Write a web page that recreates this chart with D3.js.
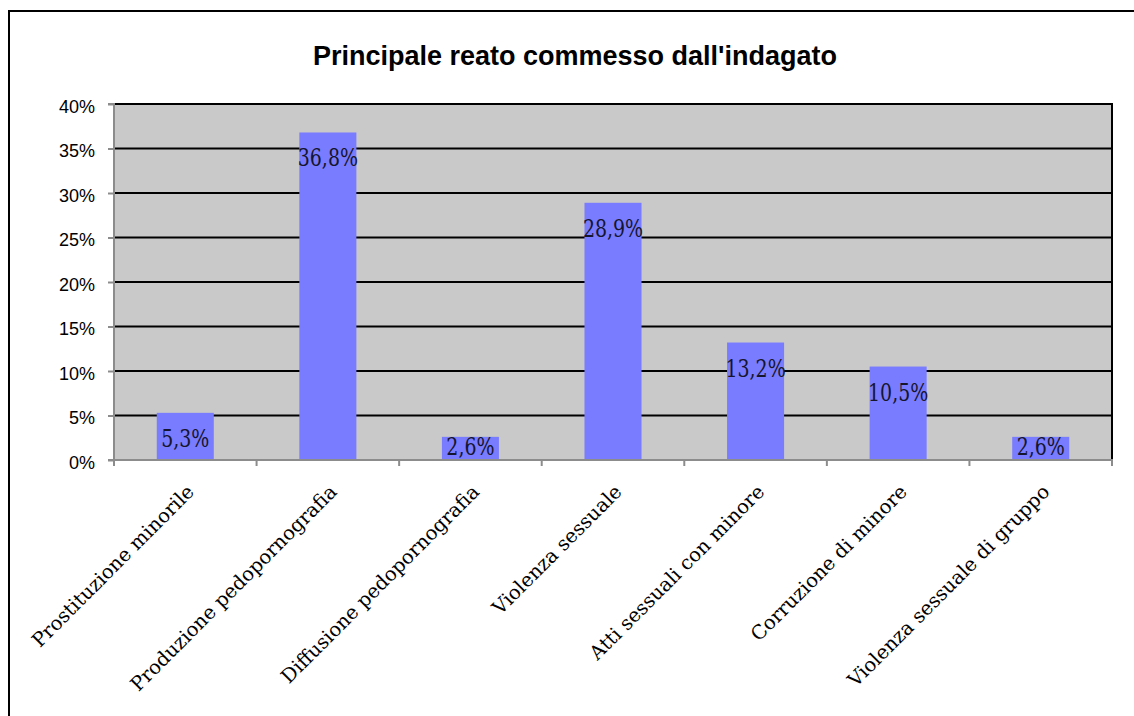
<!DOCTYPE html>
<html>
<head>
<meta charset="utf-8">
<script src="https://cdn.jsdelivr.net/npm/d3@7"></script>
<style>
  html, body { margin: 0; padding: 0; background: #ffffff; }
  svg { display: block; }
</style>
</head>
<body>
<svg id="chart" width="1134" height="716"></svg>
<script>
// Chart content
const chartTitle = "Principale reato commesso dall'indagato";
const categories = [
  "Prostituzione minorile",
  "Produzione pedopornografia",
  "Diffusione pedopornografia",
  "Violenza sessuale",
  "Atti sessuali con minore",
  "Corruzione di minore",
  "Violenza sessuale di gruppo"
];
const shares = [5.3, 36.8, 2.6, 28.9, 13.2, 10.5, 2.6];
const yTicks = [0, 5, 10, 15, 20, 25, 30, 35, 40];

const svg = d3.select("#chart");

// Outer frame of the chart object (it runs past the right and bottom edges)
svg.append("rect")
  .attr("x", 9).attr("y", 11)
  .attr("width", 1200).attr("height", 800)
  .attr("fill", "#ffffff")
  .attr("stroke", "#000000")
  .attr("stroke-width", 2);

// Plot area
const plot = { left: 114, right: 1112, top: 104, bottom: 460 };

const x = d3.scaleBand()
  .domain(categories)
  .range([plot.left, plot.right])
  .paddingInner(0.6)
  .paddingOuter(0.3);

const y = d3.scaleLinear()
  .domain([0, 40])
  .range([plot.bottom, plot.top]);

// Title
svg.append("text")
  .attr("x", 575).attr("y", 65)
  .attr("text-anchor", "middle")
  .attr("font-family", "Liberation Sans, Arial, sans-serif")
  .attr("font-weight", "bold")
  .attr("font-size", 27)
  .attr("fill", "#000")
  .text(chartTitle);

// Grey plot background
svg.append("rect")
  .attr("x", plot.left).attr("y", plot.top)
  .attr("width", plot.right - plot.left)
  .attr("height", plot.bottom - plot.top)
  .attr("fill", "#c9c9c9");

// Horizontal gridlines
svg.append("g")
  .selectAll("line")
  .data(yTicks.filter(d => d > 0))
  .join("line")
  .attr("x1", plot.left).attr("x2", plot.right)
  .attr("y1", d => y(d)).attr("y2", d => y(d))
  .attr("stroke", "#000")
  .attr("stroke-width", 2);

// Right border of plot area
svg.append("line")
  .attr("x1", plot.right).attr("x2", plot.right)
  .attr("y1", plot.top - 1).attr("y2", plot.bottom)
  .attr("stroke", "#000")
  .attr("stroke-width", 2);

// Bars
svg.append("g")
  .selectAll("rect")
  .data(shares)
  .join("rect")
  .attr("x", (d, i) => x(categories[i]))
  .attr("width", x.bandwidth())
  .attr("y", d => y(d))
  .attr("height", d => y(0) - y(d))
  .attr("fill", "#7a7cff");

// Value labels inside the top of each bar (narrowed serif face)
const fmt = v => v.toFixed(1).replace(".", ",") + "%";
svg.append("g")
  .selectAll("text")
  .data(shares)
  .join("text")
  .attr("transform", (d, i) => {
    const cx = x(categories[i]) + x.bandwidth() / 2;
    const by = Math.min(y(d) + 34, plot.bottom - 5);
    return `translate(${cx},${by}) scale(0.79,1)`;
  })
  .attr("text-anchor", "middle")
  .attr("font-family", "DejaVu Serif, serif")
  .attr("font-size", 24)
  .attr("fill", "#15152e")
  .text(fmt);

// Y axis
const yAxis = d3.axisLeft(y)
  .tickValues(yTicks)
  .tickSize(6)
  .tickPadding(13)
  .tickFormat(d => d + "%");

const gy = svg.append("g")
  .attr("transform", `translate(${plot.left},0)`)
  .call(yAxis);
gy.select(".domain").attr("stroke", "#8c8c8c").attr("stroke-width", 2)
  .attr("d", `M-6,${plot.top}H0V${plot.bottom}H-6`);
gy.selectAll(".tick line").attr("stroke", "#8c8c8c").attr("stroke-width", 2);
gy.selectAll(".tick text")
  .attr("font-family", "Liberation Sans, Arial, sans-serif")
  .attr("font-size", 18)
  .attr("fill", "#000")
  .attr("dy", "0.45em");

// X axis: line with ticks at category boundaries
const step = x.step();
const boundaries = d3.range(categories.length + 1).map(i => plot.left + i * step);
const gx = svg.append("g");
gx.append("line")
  .attr("x1", plot.left - 1).attr("x2", plot.right + 1)
  .attr("y1", plot.bottom).attr("y2", plot.bottom)
  .attr("stroke", "#8c8c8c").attr("stroke-width", 2);
gx.selectAll("line.tick")
  .data(boundaries)
  .join("line")
  .attr("class", "tick")
  .attr("x1", d => d).attr("x2", d => d)
  .attr("y1", plot.bottom).attr("y2", plot.bottom + 6)
  .attr("stroke", "#8c8c8c").attr("stroke-width", 2);

// Rotated category labels
gx.selectAll("text")
  .data(categories)
  .join("text")
  .attr("transform", d => `translate(${x(d) + x.bandwidth() / 2 + 10},${plot.bottom + 33}) rotate(-45)`)
  .attr("text-anchor", "end")
  .attr("font-family", "DejaVu Serif, serif")
  .attr("font-size", 19.5)
  .attr("fill", "#000")
  .text(d => d);
</script>
</body>
</html>
